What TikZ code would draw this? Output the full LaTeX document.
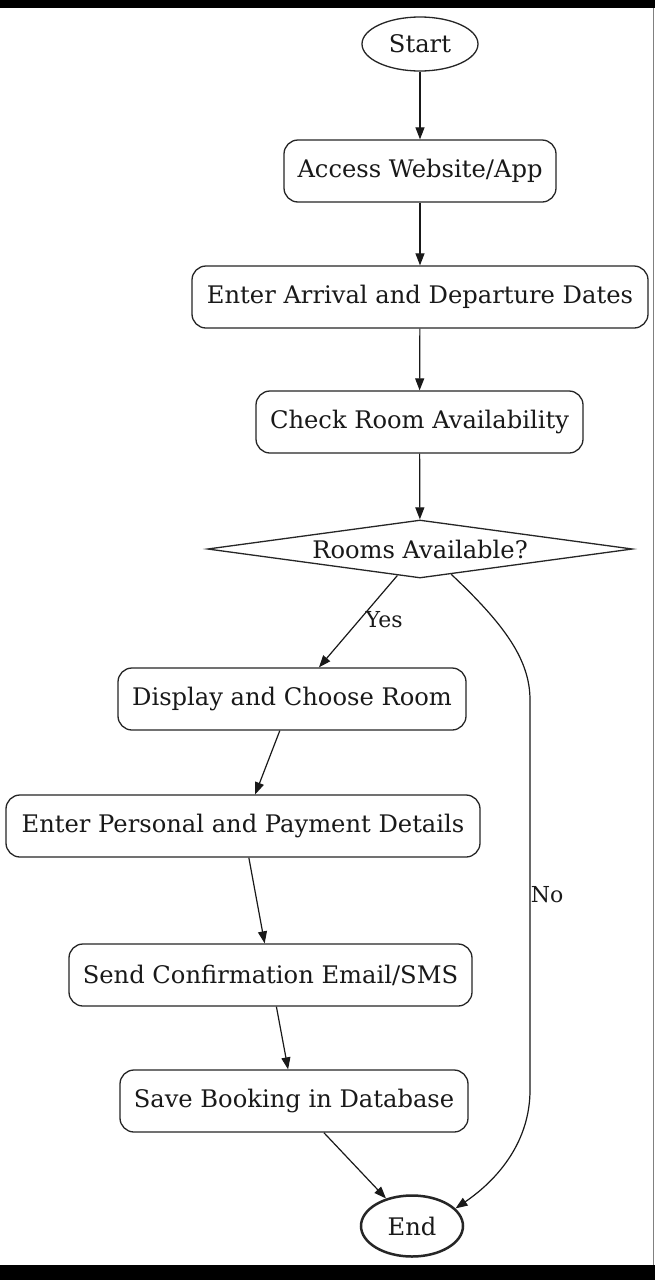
\documentclass[tikz,border=0pt]{standalone}
\usepackage{fontspec}
\setmainfont{DejaVu Serif}
\usetikzlibrary{shapes.geometric,arrows.meta}
\begin{document}
\begin{tikzpicture}[x=1pt,y=-1pt,
  font=\fontsize{24.2}{28}\selectfont,
  every node/.style={text=black!90},
  procbox/.style={draw=black!85,line width=1.3pt,rounded corners=14pt,inner xsep=10pt,minimum height=62pt},
  termnode/.style={draw=black!85,ellipse,line width=1.3pt,inner sep=0pt},
  decnode/.style={draw=black!85,diamond,line width=1.3pt,inner sep=0pt,minimum width=425pt,minimum height=58pt,aspect=7.3},
  flow/.style={draw=black!90,line width=1.2pt,-{Triangle[length=12pt,width=9pt]}},
  lbl/.style={font=\fontsize{22}{26}\selectfont}]
\useasboundingbox (0,0) rectangle (655,1280);
\fill[white] (0,0) rectangle (655,1280);
\fill[black] (0,0) rectangle (655,8);
\fill[black] (0,1265) rectangle (655,1280);
\draw[black!50,line width=0.8pt] (653.5,8) -- (653.5,1265);

\node[termnode,minimum width=116pt,minimum height=54pt] (start) at (420,44) {Start};
\node[procbox,minimum width=272pt] (web) at (420,171) {Access Website/App};
\node[procbox,minimum width=456pt] (dates) at (420,297) {Enter Arrival and Departure Dates};
\node[procbox,minimum width=327pt] (check) at (419.5,422) {Check Room Availability};
\node[decnode] (dec) at (420,549) {Rooms Available?};
\node[procbox,minimum width=348pt] (disp) at (292,699) {Display and Choose Room};
\node[procbox,minimum width=474pt] (pers) at (243,826) {Enter Personal and Payment Details};
\node[procbox,minimum width=403pt] (conf) at (270.5,975) {Send Confirmation Email/SMS};
\node[procbox,minimum width=348pt] (save) at (294,1101) {Save Booking in Database};
\node[termnode,line width=2.5pt,minimum width=102pt,minimum height=61pt] (end) at (412,1226) {End};

\coordinate (noTop) at (530,700);
\coordinate (noBot) at (530,1090);

\draw[flow] (start) -- (web);
\draw[flow] (web) -- (dates);
\draw[flow] (dates) -- (check);
\draw[flow] (check) -- (dec);
\draw[flow] (dec) -- node[lbl,right,pos=0.48,xshift=2pt] {Yes} (disp);
\draw[flow] (disp) -- (pers);
\draw[flow] (pers) -- (conf);
\draw[flow] (conf) -- (save);
\draw[flow] (save) -- (end);
\draw[flow] (dec.-39) .. controls (505,625) and (530,660) .. (noTop) -- node[lbl,right,pos=0.5,xshift=-3pt] {No} (noBot) .. controls (530,1140) and (500,1178) .. (end.22);
\end{tikzpicture}
\end{document}
